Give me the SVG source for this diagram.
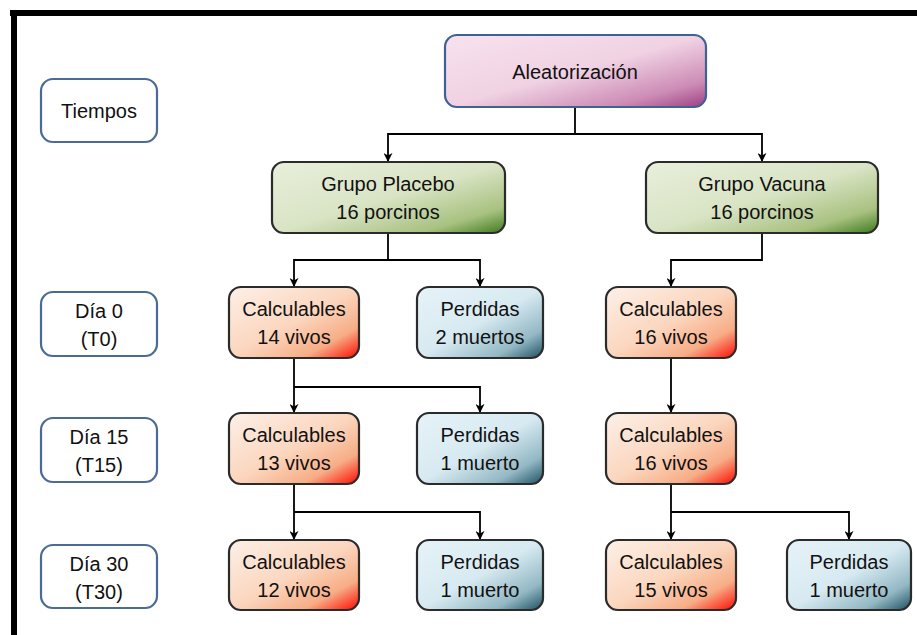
<svg xmlns="http://www.w3.org/2000/svg" width="917" height="635" viewBox="0 0 917 635">
<defs>
<linearGradient id="gPink" x1="0" y1="0" x2="1" y2="1">
<stop offset="0" stop-color="#f8e2ee"/><stop offset="0.5" stop-color="#f0d2e3"/><stop offset="0.82" stop-color="#cc8bb5"/><stop offset="1" stop-color="#9b3f82"/>
</linearGradient>
<linearGradient id="gGreen" x1="0" y1="0" x2="1" y2="1">
<stop offset="0" stop-color="#e8efdb"/><stop offset="0.5" stop-color="#d9e4c5"/><stop offset="0.82" stop-color="#a8c180"/><stop offset="1" stop-color="#3c7a1c"/>
</linearGradient>
<linearGradient id="gRed" x1="0" y1="0" x2="1" y2="1">
<stop offset="0" stop-color="#fdf0e8"/><stop offset="0.5" stop-color="#fbd6be"/><stop offset="0.78" stop-color="#f7ad86"/><stop offset="1" stop-color="#ff0800"/>
</linearGradient>
<linearGradient id="gBlue" x1="0" y1="0" x2="1" y2="1">
<stop offset="0" stop-color="#e6f3f8"/><stop offset="0.5" stop-color="#d7eaf1"/><stop offset="0.8" stop-color="#93b8c4"/><stop offset="1" stop-color="#1c4f5f"/>
</linearGradient>
<marker id="arr" viewBox="0 0 10 10" refX="9" refY="5" markerWidth="9" markerHeight="9" markerUnits="userSpaceOnUse" orient="auto">
<path d="M0,0 L10,5 L0,10 L3,5 Z" fill="#000"/>
</marker>
<style>
text{font-family:"Liberation Sans",Arial,sans-serif;font-size:20px;fill:#111;text-anchor:middle}
.time rect{fill:#fff;stroke:#4a6b96;stroke-width:2.2}
.pink rect{fill:url(#gPink);stroke:#3f6294;stroke-width:2.2}
.green rect{fill:url(#gGreen);stroke:#2b2b2b;stroke-width:2.2}
.red rect{fill:url(#gRed);stroke:#2b2b2b;stroke-width:2.2}
.blue rect{fill:url(#gBlue);stroke:#2b2b2b;stroke-width:2.2}
.conn path{fill:none;stroke:#000;stroke-width:1.8}
</style>
</defs>
<rect width="917" height="635" fill="#fff"/>
<g id="frame">
<line x1="10" y1="13" x2="917" y2="13" stroke="#000" stroke-width="6"/>
<line x1="14" y1="10" x2="14" y2="635" stroke="#000" stroke-width="6"/>
</g>
<g class="conn" id="connectors">
<path d="M575,108 V134 H388 V161" marker-end="url(#arr)"/>
<path d="M575,134 H762 V161" marker-end="url(#arr)"/>
<path d="M388,234 V260 H294 V286" marker-end="url(#arr)"/>
<path d="M388,260 H480 V286" marker-end="url(#arr)"/>
<path d="M762,234 V260 H671 V286" marker-end="url(#arr)"/>
<path d="M294,359 V412" marker-end="url(#arr)"/>
<path d="M294,387 H480 V412" marker-end="url(#arr)"/>
<path d="M671,359 V412" marker-end="url(#arr)"/>
<path d="M294,485 V539" marker-end="url(#arr)"/>
<path d="M294,512 H480 V539" marker-end="url(#arr)"/>
<path d="M671,485 V539" marker-end="url(#arr)"/>
<path d="M671,512 H849 V539" marker-end="url(#arr)"/>
</g>
<g id="tiempos" class="time"><rect x="41" y="79" width="116" height="63" rx="12"/><text x="99" y="118">Tiempos</text></g>
<g id="dia0" class="time"><rect x="41" y="292" width="116" height="64" rx="12"/><text x="99" y="318">Día 0</text><text x="99" y="346">(T0)</text></g>
<g id="dia15" class="time"><rect x="41" y="418" width="116" height="64" rx="12"/><text x="99" y="444">Día 15</text><text x="99" y="472">(T15)</text></g>
<g id="dia30" class="time"><rect x="41" y="545" width="116" height="63" rx="12"/><text x="99" y="571">Día 30</text><text x="99" y="599">(T30)</text></g>
<g id="aleat" class="pink"><rect x="445" y="35" width="261" height="72" rx="12"/><text x="575" y="79">Aleatorización</text></g>
<g id="placebo" class="green"><rect x="272" y="162" width="233" height="71" rx="12"/><text x="388" y="191">Grupo Placebo</text><text x="388" y="219">16 porcinos</text></g>
<g id="vacuna" class="green"><rect x="646" y="162" width="232" height="71" rx="12"/><text x="762" y="191">Grupo Vacuna</text><text x="762" y="219">16 porcinos</text></g>
<g id="p0c" class="red"><rect x="229" y="287" width="130" height="71" rx="12"/><text x="294" y="316">Calculables</text><text x="294" y="344">14 vivos</text></g>
<g id="p0p" class="blue"><rect x="417" y="287" width="126" height="71" rx="12"/><text x="480" y="316">Perdidas</text><text x="480" y="344">2 muertos</text></g>
<g id="v0c" class="red"><rect x="606" y="287" width="130" height="71" rx="12"/><text x="671" y="316">Calculables</text><text x="671" y="344">16 vivos</text></g>
<g id="p15c" class="red"><rect x="229" y="413" width="130" height="71" rx="12"/><text x="294" y="442">Calculables</text><text x="294" y="470">13 vivos</text></g>
<g id="p15p" class="blue"><rect x="417" y="413" width="126" height="71" rx="12"/><text x="480" y="442">Perdidas</text><text x="480" y="470">1 muerto</text></g>
<g id="v15c" class="red"><rect x="606" y="413" width="130" height="71" rx="12"/><text x="671" y="442">Calculables</text><text x="671" y="470">16 vivos</text></g>
<g id="p30c" class="red"><rect x="229" y="540" width="130" height="70" rx="12"/><text x="294" y="569">Calculables</text><text x="294" y="597">12 vivos</text></g>
<g id="p30p" class="blue"><rect x="417" y="540" width="126" height="70" rx="12"/><text x="480" y="569">Perdidas</text><text x="480" y="597">1 muerto</text></g>
<g id="v30c" class="red"><rect x="606" y="540" width="130" height="70" rx="12"/><text x="671" y="569">Calculables</text><text x="671" y="597">15 vivos</text></g>
<g id="v30p" class="blue"><rect x="787" y="540" width="124" height="70" rx="12"/><text x="849" y="569">Perdidas</text><text x="849" y="597">1 muerto</text></g>
</svg>
